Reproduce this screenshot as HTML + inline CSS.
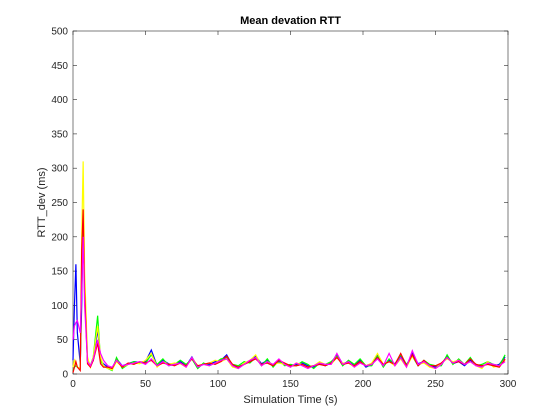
<!DOCTYPE html>
<html><head><meta charset="utf-8"><style>
body{margin:0;background:#fff;}
svg{display:block;font-family:"Liberation Sans",sans-serif;}
</style></head><body>
<svg id="chart" width="560" height="420"></svg>
<script>
const tEarly=[0,1,2,3,5,6,7,8,10,12,14,17,19,21,24,27];
const tLate=[30,34,38,42,46,50,54,58,62,66,70,74,78,82,86,90,94,98,102,106,110,114,118,122,126,130,134,138,142,146,150,154,158,162,166,170,174,178,182,186,190,194,198,202,206,210,214,218,222,226,230,234,238,242,246,250,254,258,262,266,270,274,278,282,286,290,294,298];
const blueVals=[20,100,160,60,15,100,230,120,20,12,20,65,20,15,10,8,22,12,15,18,17,18,35,12,20,15,14,18,12,25,10,15,14,18,20,28,12,10,15,18,26,15,20,12,18,15,12,14,16,12,10,15,12,16,28,15,18,12,20,10,14,28,12,20,15,26,12,30,15,18,12,10,14,26,15,18,12,20,14,10,16,12,14,25];
const yellowVals=[10,20,15,10,8,200,310,150,25,10,25,70,25,12,8,6,18,10,14,16,15,20,30,10,18,14,16,15,10,24,12,14,16,20,18,22,10,8,16,20,28,12,18,14,16,14,10,16,14,10,12,18,14,14,24,16,16,10,18,12,16,30,14,18,12,22,10,26,14,16,10,8,16,22,18,20,14,18,12,8,18,10,12,20];
const greenVals=[5,10,12,10,8,150,230,130,20,12,25,85,20,12,8,5,24,8,14,18,16,16,28,14,22,12,14,20,14,22,8,16,12,16,22,24,14,12,18,16,24,12,22,10,20,12,14,12,18,14,8,16,14,18,26,12,20,14,22,12,12,26,10,22,14,28,14,26,12,20,14,12,12,28,14,22,14,24,12,14,18,14,12,28];
const redVals=[2,10,18,10,5,180,240,120,15,10,20,45,15,10,10,8,20,10,16,14,18,16,20,12,16,14,12,16,12,22,12,14,16,14,18,26,14,10,14,18,22,14,16,12,20,16,12,12,14,10,12,14,12,16,24,14,16,12,18,12,14,24,14,18,14,30,12,28,12,20,12,12,16,24,16,18,14,22,14,12,14,12,10,22];
const magentaVals=[50,70,75,78,60,120,200,100,18,12,22,50,30,20,12,10,20,12,14,16,18,14,22,12,18,12,14,16,10,24,10,14,12,16,20,22,12,8,14,20,24,12,18,14,22,14,10,16,12,8,12,16,14,14,30,14,18,10,16,12,14,22,12,30,12,24,10,34,14,18,12,8,14,24,16,20,14,18,12,10,16,14,12,18];
const yTicks=[0,50,100,150,200,250,300,350,400,450,500];
const xTicks=[0,50,100,150,200,250,300];
const times=tEarly.concat(tLate);
const L=73,R=508,T=31,B=374;
const xs=v=>L+(v/300)*(R-L);
const ys=v=>B-(v/500)*(B-T);
const svg=document.getElementById('chart');
const NS='http://www.w3.org/2000/svg';
function mk(tag,attrs){const e=document.createElementNS(NS,tag);for(const k in attrs)e.setAttribute(k,attrs[k]);svg.appendChild(e);return e;}
const box=mk('rect',{x:L,y:T,width:R-L,height:B-T,fill:'#fff',stroke:'#262626','stroke-width':0.6});


yTicks.forEach(v=>{
  const y=ys(v);
  mk('line',{x1:L,x2:L+4,y1:y,y2:y,stroke:'#262626','stroke-width':0.6});
  mk('line',{x1:R,x2:R-4,y1:y,y2:y,stroke:'#262626','stroke-width':0.6});
  const t=mk('text',{x:L-5,y:y+3.5,'text-anchor':'end','font-size':10,fill:'#262626'});
  t.textContent=v;
  
  
});
xTicks.forEach(v=>{
  const x=xs(v);
  mk('line',{x1:x,x2:x,y1:B,y2:B-4,stroke:'#262626','stroke-width':0.6});
  mk('line',{x1:x,x2:x,y1:T,y2:T+4,stroke:'#262626','stroke-width':0.6});
  const t=mk('text',{x:x,y:B+13,'text-anchor':'middle','font-size':10,fill:'#262626'});
  t.textContent=v;
  
  
});
const series=[['blue',blueVals,'#0000ff'],['green',greenVals,'#00ff00'],['yellow',yellowVals,'#ffff00'],['red',redVals,'#ff0000'],['magenta',magentaVals,'#ff00ff']];
series.forEach(([n,vals,c])=>{
  const p=mk('polyline',{points:times.map((t,i)=>xs(t)+','+ys(vals[i])).join(' '),fill:'none',stroke:c,'stroke-width':1.2});
  
  
});
const ti=mk('text',{x:(L+R)/2,y:24,'text-anchor':'middle','font-size':11,'font-weight':'bold',fill:'#000'});
ti.textContent='Mean devation RTT';


const xl=mk('text',{x:(L+R)/2,y:403,'text-anchor':'middle','font-size':11,fill:'#262626'});
xl.textContent='Simulation Time (s)';


const yl=mk('text',{x:0,y:0,'text-anchor':'middle','font-size':11,fill:'#262626',transform:'translate(45,'+((T+B)/2)+') rotate(-90)'});
yl.textContent='RTT_dev (ms)';


</script>
</body></html>
